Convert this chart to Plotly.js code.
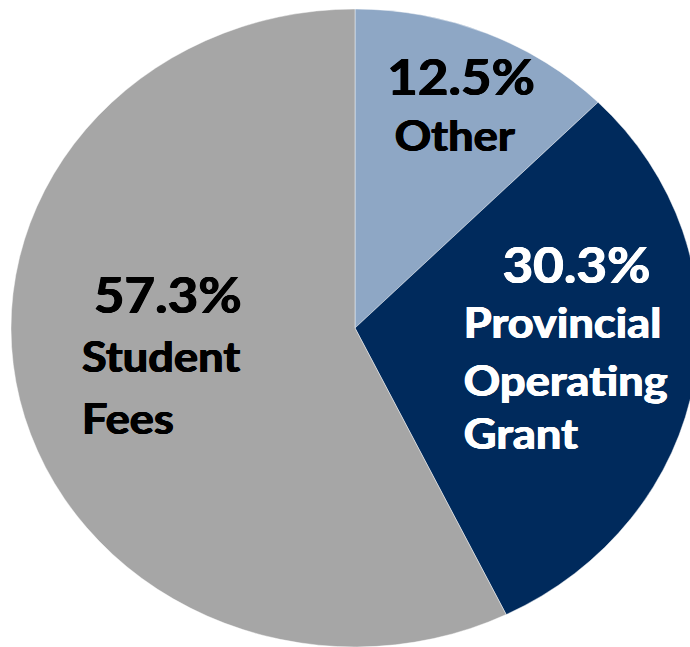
<!DOCTYPE html>
<html>
<head>
<meta charset="utf-8">
<script src="https://cdn.plot.ly/plotly-3.0.1.min.js"></script>
<style>
  html, body { margin: 0; padding: 0; width: 690px; height: 647px; overflow: hidden; background: #fff; }
  #chart { position: absolute; left: 0; top: 0; width: 650px; height: 647px; transform: scaleX(1.0784); transform-origin: 0 0; }
</style>
</head>
<body>
<div id="chart"></div>
<script>
// Data
const categories = ['Other', 'Provincial Operating Grant', 'Student Fees'];
const shares = [12.5, 30.3, 57.3];
const sliceColors = ['#8EA7C5', '#002A5C', '#A6A6A6'];
const textColors = ['#000000', '#FFFFFF', '#000000'];
const labelLines = [['Other'], ['Provincial', 'Operating', 'Grant'], ['Student', 'Fees']];

// Layout helpers (final pixel positions -> paper coords inside the stretched div)
const S = 1.0784, W = 650, H = 647;
const px = x => (x / S) / W;
const py = y => 1 - y / H;

// positions of percent text (center) and label lines
const pctPos = [[461, 76], [576, 264], [167.5, 294]];
const linePos = [
  [[455.5, 135, 'center']],
  [[462, 322, 'left'], [462, 380, 'left'], [462, 433, 'left']],
  [[80, 356, 'left'], [80, 418, 'left']]
];

const FONT = 'Lato, "Open Sans", sans-serif';
const thick = c => `0.6px 0 0 ${c}, -0.6px 0 0 ${c}, 0 0.4px 0 ${c}`;
const annotations = [];
categories.forEach((c, i) => {
  annotations.push({
    xref: 'paper', yref: 'paper', x: px(pctPos[i][0]), y: py(pctPos[i][1]),
    xanchor: 'center', yanchor: 'middle', showarrow: false,
    text: shares[i].toFixed(1) + '%',
    font: { family: FONT, size: 49, color: textColors[i], weight: 'bold', shadow: thick(textColors[i]) }
  });
  labelLines[i].forEach((ln, j) => {
    const p = linePos[i][j];
    annotations.push({
      xref: 'paper', yref: 'paper', x: px(p[0]), y: py(p[1]),
      xanchor: p[2], yanchor: 'middle', showarrow: false,
      text: ln,
      font: { family: FONT, size: 42, color: textColors[i], weight: 'bold', shadow: thick(textColors[i]) }
    });
  });
});

const cx = 355 / S, r = 319;
const trace = {
  type: 'pie',
  labels: categories,
  values: shares,
  sort: false,
  direction: 'clockwise',
  rotation: 0,
  marker: { colors: sliceColors, line: { color: 'rgba(255,255,255,0.6)', width: 0.7 } },
  textinfo: 'none',
  hoverinfo: 'label+percent',
  domain: { x: [(cx - r) / W, (cx + r) / W], y: [0, (2 * r) / H] }
};

Plotly.newPlot('chart', [trace], {
  width: W, height: H,
  margin: { l: 0, r: 0, t: 0, b: 0 },
  showlegend: false,
  paper_bgcolor: '#ffffff',
  annotations: annotations
}, { displayModeBar: false, staticPlot: true });
</script>
</body>
</html>
